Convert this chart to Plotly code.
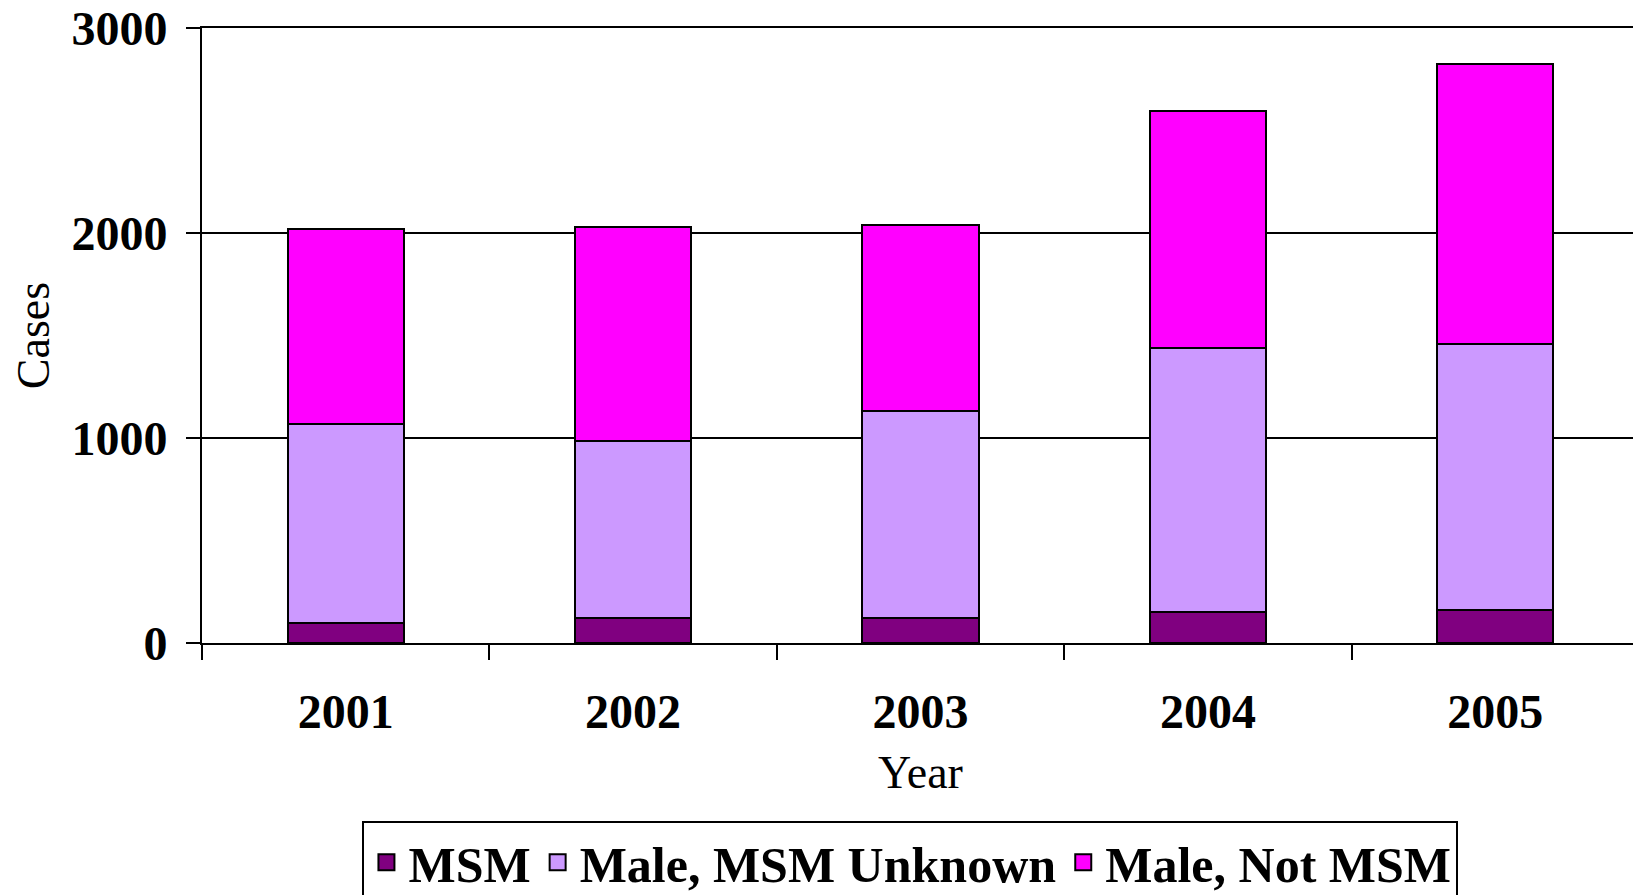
import plotly.graph_objects as go

years = ["2001", "2002", "2003", "2004", "2005"]
msm = [100, 123, 123, 150, 161]
msm_unknown = [970, 864, 1008, 1291, 1299]
not_msm = [949, 1043, 907, 1154, 1362]

series_names = ["MSM", "Male, MSM Unknown", "Male, Not MSM"]
series_colors = ["#800080", "#CC99FF", "#FF00FF"]
y_ticks = [0, 1000, 2000, 3000]

FONT = "Liberation Serif, Times New Roman, serif"

fig = go.Figure()
for name, vals, col in zip(series_names, [msm, msm_unknown, not_msm], series_colors):
    fig.add_trace(go.Bar(
        x=years, y=vals, name=name, showlegend=False,
        marker=dict(color=col, line=dict(color="black", width=2)),
    ))
# legend-only entries with larger square swatches
for name, col in zip(series_names, series_colors):
    fig.add_trace(go.Scatter(
        x=[None], y=[None], mode="markers", name=name,
        marker=dict(symbol="square", size=22, color=col, line=dict(color="black", width=2)),
        hoverinfo="skip",
    ))

# page body has an 8px margin, so the figure is 8px smaller in each direction
fig.update_layout(
    template="none",
    barmode="stack",
    bargap=0.596,
    width=1633, height=887,
    margin=dict(l=194, r=2, t=20, b=252, autoexpand=False),
    paper_bgcolor="white", plot_bgcolor="white",
    font=dict(family=FONT, color="black"),
    showlegend=True,
    legend=dict(
        orientation="h",
        x=0.493, xanchor="center",
        y=-0.290, yanchor="top",
        bordercolor="black", borderwidth=2,
        font=dict(family=FONT, size=50, color="black", weight="bold"),
        traceorder="normal",
        itemsizing="trace",
        itemwidth=34,
        tracegroupgap=0,
        bgcolor="white",
    ),
)

fig.update_xaxes(
    type="category",
    automargin=False,
    tickson="boundaries",
    ticks="outside", ticklen=15, tickwidth=2, tickcolor="black",
    showline=True, linecolor="black", linewidth=2, mirror=True,
    showgrid=False, zeroline=False,
    tickfont=dict(family=FONT, size=48, color="black", weight="bold"),
    ticklabelstandoff=25,
    ticklabeloverflow="allow",
    title=dict(text="Year", font=dict(family=FONT, size=46, color="black"), standoff=19),
)

fig.update_yaxes(
    automargin=False,
    range=[0, 3000],
    tickvals=y_ticks,
    ticktext=[str(v) for v in y_ticks],
    ticks="outside", ticklen=14, tickwidth=2, tickcolor="black",
    showline=True, linecolor="black", linewidth=2,
    showgrid=True, gridcolor="black", gridwidth=2,
    zeroline=False,
    tickfont=dict(family=FONT, size=48, color="black", weight="bold"),
    ticklabelstandoff=9,
    ticklabeloverflow="allow",
    title=dict(text="Cases", font=dict(family=FONT, size=46, color="black"), standoff=9),
)

fig.write_html("out.html")
